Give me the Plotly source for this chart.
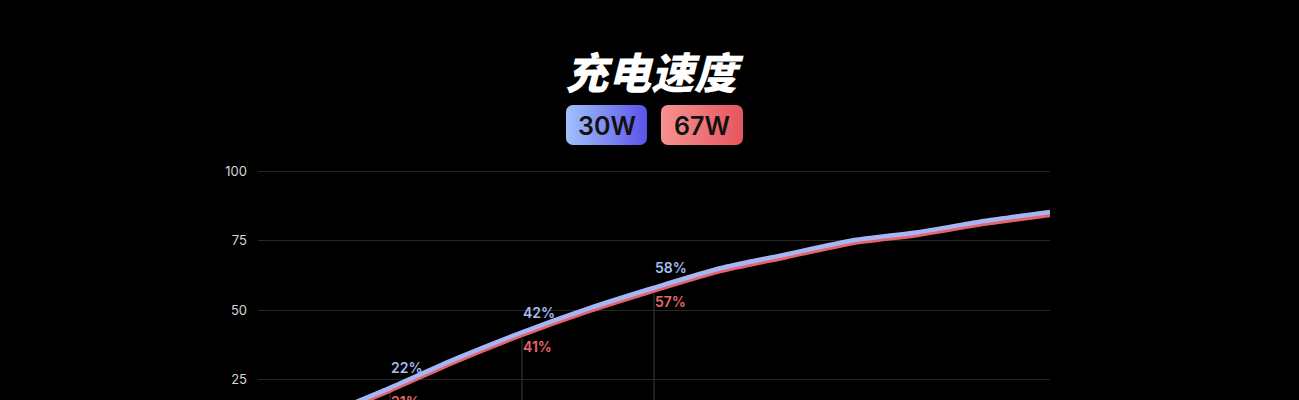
import plotly.graph_objects as go

# ---- data ----
minutes = [0, 5, 10, 15, 20, 25, 30, 35, 40, 45, 50, 55, 60]
w30 = [1, 12, 22, 32.5, 42, 50.5, 58, 65, 70, 75, 78, 82, 85.3]
w67 = [0.5, 11, 21, 31.5, 41, 49.5, 57, 64, 69, 74, 77, 81, 84.2]
mark_minutes = [10, 20, 30]
mark_30w = [22, 42, 58]
mark_67w = [21, 41, 57]
y_ticks = [25, 50, 75, 100]
title_text = "充电速度"
series_names = ["30W", "67W"]

BLUE = "#a6b6f4"
RED = "#e5646b"
BLUE_TXT = "#a9bdf2"
RED_TXT = "#e8686c"

W, H = 1299, 400
PX_L, PX_R = 258, 1050
PLOT_TOP = 150
K = 2.78  # px per unit
y_hi = 100 + (171 - PLOT_TOP) / K
y_lo = y_hi - (H - PLOT_TOP) / K

fig = go.Figure()

fig.add_trace(go.Scatter(x=minutes, y=w67, mode="lines", name=series_names[1],
                         line=dict(color=RED, width=4.5, shape="spline", smoothing=0.6),
                         hoverinfo="skip"))
fig.add_trace(go.Scatter(x=minutes, y=w30, mode="lines", name=series_names[0],
                         line=dict(color=BLUE, width=4.5, shape="spline", smoothing=0.6),
                         hoverinfo="skip"))

# vertical markers and labels
for m, b, r in zip(mark_minutes, mark_30w, mark_67w):
    fig.add_shape(type="line", xref="x", yref="y", x0=m, x1=m, y0=0, y1=r - 1.2,
                  line=dict(color="#3a3a3a", width=1), layer="below")
    fig.add_annotation(x=m, y=b, xref="x", yref="y", text=f"{b}%", showarrow=False,
                       xanchor="left", yanchor="middle", xshift=-1, yshift=20,
                       font=dict(family="Inter", size=14, color=BLUE_TXT, weight=600))
    fig.add_annotation(x=m, y=r, xref="x", yref="y", text=f"{r}%", showarrow=False,
                       xanchor="left", yanchor="middle", xshift=-1, yshift=-11,
                       font=dict(family="Inter", size=14, color=RED_TXT, weight=600))

# badges (rounded rectangles with gradient) on pixel overlay axes
def rounded_rect(x0, y0, x1, y1, rad, n=8):
    import math
    xs, ys = [], []
    corners = [(x1 - rad, y0 + rad, -90, 0), (x1 - rad, y1 - rad, 0, 90),
               (x0 + rad, y1 - rad, 90, 180), (x0 + rad, y0 + rad, 180, 270)]
    for cx, cy, a0, a1 in corners:
        for i in range(n + 1):
            a = math.radians(a0 + (a1 - a0) * i / n)
            xs.append(cx + rad * math.cos(a))
            ys.append(cy + rad * math.sin(a))
    xs.append(xs[0]); ys.append(ys[0])
    return xs, ys

badges = [
    (566, 105, 647, 145, ["#a0c2fb", "#5b53e9"]),
    (661, 105, 743, 145, ["#f6928f", "#e6565e"]),
]
for (x0, y0, x1, y1, cols), name in zip(badges, series_names):
    bx, by = rounded_rect(x0, y0, x1, y1, 7)
    fig.add_trace(go.Scatter(x=bx, y=by, xaxis="x2", yaxis="y2", mode="lines",
                             line=dict(width=0), fill="toself",
                             fillgradient=dict(type="horizontal",
                                               colorscale=[[0, cols[0]], [1, cols[1]]]),
                             hoverinfo="skip", showlegend=False))
    fig.add_annotation(x=(x0 + x1) / 2, y=(y0 + y1) / 2 + 1, xref="x2", yref="y2",
                       text=name, showarrow=False,
                       font=dict(family="Inter", size=25, color="#111111", weight=600))

fig.add_annotation(x=654, y=70, xref="x2", yref="y2", text=title_text, showarrow=False,
                   font=dict(family="Noto Sans CJK SC", size=43, color="#ffffff",
                             weight=900, style="italic"))

fig.update_layout(
    width=W, height=H,
    margin=dict(l=0, r=0, t=0, b=0),
    paper_bgcolor="#000000",
    plot_bgcolor="rgba(0,0,0,0)",
    showlegend=False,
    xaxis=dict(domain=[PX_L / W, PX_R / W], range=[0, 60], visible=False,
               showgrid=False, zeroline=False),
    yaxis=dict(domain=[0, (H - PLOT_TOP) / H], range=[y_lo, y_hi],
               tickvals=y_ticks, ticktext=[str(v) for v in y_ticks],
               showgrid=True, gridcolor="#262626", gridwidth=1, zeroline=False,
               showline=False, ticks="", ticklabelstandoff=10,
               tickfont=dict(family="Inter", size=13, color="#d6d6d6")),
    xaxis2=dict(domain=[0, 1], range=[0, W], visible=False, anchor="y2"),
    yaxis2=dict(domain=[0, 1], range=[H, 0], visible=False, anchor="x2"),
)

fig.write_html("out.html", config={"displayModeBar": False},
               post_script="document.body.style.margin='0';document.body.style.overflow='hidden';")
